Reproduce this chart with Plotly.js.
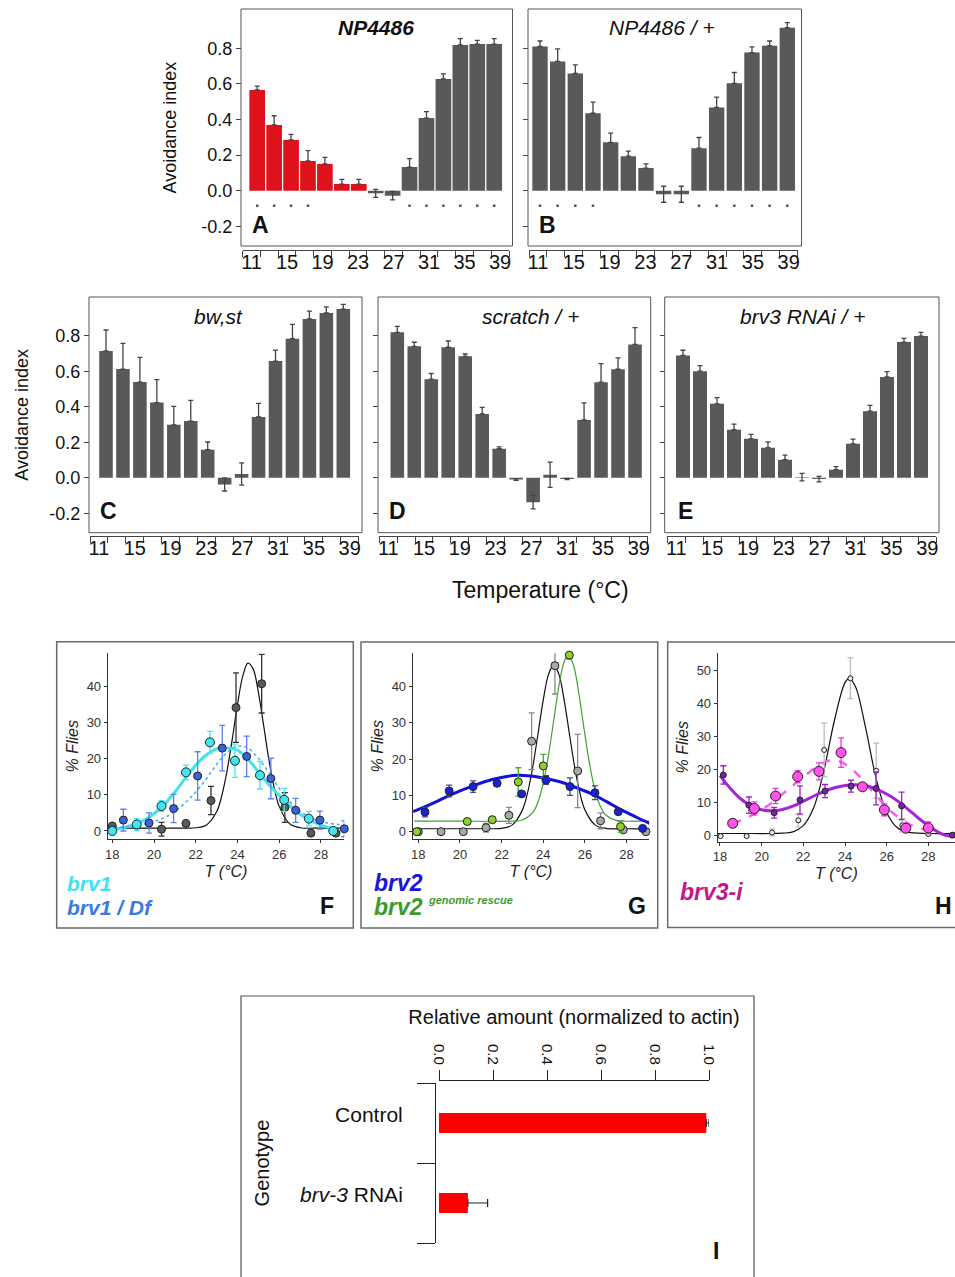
<!DOCTYPE html>
<html>
<head>
<meta charset="utf-8">
<script src="https://cdn.plot.ly/plotly-3.0.1.min.js"></script>
<style>
html,body{margin:0;padding:0;background:#ffffff;}
#chart{width:955px;height:1277px;}
</style>
</head>
<body>
<div id="chart"></div>
<script>
// ================= DATA =================
const temps = [11,13,15,17,19,21,23,25,27,29,31,33,35,37,39];
const tempTickVals = [11,15,19,23,27,31,35,39];
const tempTickText = ['11','15','19','23','27','31','35','39'];
const avoidTickVals = [-0.2,0,0.2,0.4,0.6,0.8];
const avoidTickText = ['-0.2','0.0','0.2','0.4','0.6','0.8'];

// A: NP4486
const np4486 = [0.566,0.369,0.285,0.167,0.150,0.037,0.037,-0.015,-0.028,0.133,0.408,0.628,0.819,0.824,0.824];
const np4486Err = [0.022,0.052,0.031,0.058,0.037,0.027,0.027,0.022,0.024,0.047,0.036,0.028,0.035,0.021,0.030];
const np4486Cold = [11,13,15,17,19,21,23];
const np4486Sig = [11,13,15,17,29,31,33,35,37,39];
// B: NP4486 / +
const np4486Het = [0.810,0.726,0.659,0.435,0.272,0.194,0.127,-0.020,-0.020,0.239,0.468,0.603,0.776,0.815,0.916];
const np4486HetErr = [0.031,0.071,0.048,0.063,0.051,0.028,0.024,0.045,0.045,0.060,0.058,0.061,0.032,0.026,0.028];
const np4486HetSig = [11,13,15,17,29,31,33,35,37,39];
// C: bw,st
const bwst = [0.714,0.612,0.539,0.423,0.298,0.319,0.158,-0.038,0.021,0.342,0.657,0.783,0.894,0.928,0.950];
const bwstErr = [0.118,0.145,0.139,0.129,0.104,0.117,0.043,0.037,0.063,0.077,0.062,0.081,0.045,0.034,0.027];
// D: scratch / +
const scratchHet = [0.819,0.740,0.555,0.735,0.684,0.359,0.163,-0.010,-0.138,0.017,-0.007,0.325,0.538,0.611,0.751];
const scratchHetErr = [0.033,0.023,0.032,0.035,0.013,0.037,0.011,0.005,0.038,0.071,0.003,0.097,0.105,0.064,0.094];
// E: brv3 RNAi / +
const brv3RnaiHet = [0.689,0.600,0.416,0.270,0.219,0.169,0.101,0.003,-0.008,0.045,0.191,0.375,0.568,0.764,0.798];
const brv3RnaiHetErr = [0.029,0.031,0.035,0.032,0.025,0.033,0.026,0.021,0.016,0.017,0.026,0.033,0.030,0.021,0.021];

// F: brv1
const wtF_T = [18.0,20.36,21.53,22.73,23.93,25.16,26.27,27.52,28.72];
const wtF_Y = [1.4,0.5,2.1,8.4,34.1,40.7,6.5,-0.6,-0.6];
const wtF_E = [0,1.9,0,3.9,9.6,8.1,4.1,0,0];
const brv1_T = [18.0,19.17,20.36,21.53,22.68,23.88,25.08,26.24,27.42,28.59];
const brv1_Y = [0.0,1.8,6.9,16.2,24.5,19.4,15.4,8.6,3.4,0.0];
const brv1_E = [0.5,1.6,1.5,2.0,3.0,4.6,3.8,3.2,2.0,0.6];
const brv1Df_T = [18.53,19.76,20.94,22.09,23.27,24.44,25.6,26.79,27.95,29.12];
const brv1Df_Y = [3.0,2.2,6.2,15.2,22.9,20.6,14.5,5.7,3.0,0.6];
const brv1Df_E = [3.0,2.8,3.9,6.7,6.3,5.6,5.6,3.3,2.5,2.2];
const wtFitF_T = [17.8,18.5,19.5,20.5,21.5,22.0,22.5,23.0,23.25,23.5,23.75,24.0,24.25,24.5,24.75,25.0,25.25,25.5,25.75,26.0,26.5,27.0,28.0,29.1];
const wtFitF_Y = [0.8,0.8,0.8,0.8,0.8,0.9,1.6,5.3,9.8,16.6,25.4,34.9,42.7,46.4,44.8,38.4,29.3,19.9,12.2,6.8,2.0,0.9,0.8,0.8];
const brv1Fit_T = [17.9,18.5,19.2,19.8,20.4,21.0,21.5,22.0,22.5,23.0,23.3,23.6,24.0,24.5,25.1,25.6,26.2,26.8,27.4,28.0,28.6];
const brv1Fit_Y = [0.3,0.9,2.0,3.9,6.8,10.8,14.6,18.2,21.0,22.7,23.0,22.9,22.3,19.9,15.6,12.2,8.7,5.5,3.2,1.6,0.6];
const brv1DfFit_T = [17.8,18.5,19.3,20.0,20.6,21.2,21.8,22.4,22.9,23.4,23.9,24.4,24.9,25.4,25.9,26.4,27.0,27.6,28.3,29.1];
const brv1DfFit_Y = [0.9,1.1,1.6,2.6,4.0,6.3,9.5,13.6,17.6,21.2,23.3,23.2,20.8,17.0,12.6,8.7,5.5,3.4,2.2,1.7];

// G: brv2
const wtG_T = [18.0,19.09,20.16,21.25,22.35,23.44,24.56,25.65,26.75,27.84,28.93];
const wtG_Y = [0,0,0,1.1,4.5,24.9,45.7,16.7,3.0,0.5,0];
const wtG_E = [0,0,0,1.2,2.2,7.8,7.8,10.1,2.2,0,0];
const rescue_T = [17.92,20.35,21.55,22.8,24.0,25.25,27.71];
const rescue_Y = [0,2.8,3.3,13.7,18.1,48.6,1.4];
const rescue_E = [0,0,0,3.9,3.2,1.1,1.5];
const brv2_T = [18.32,19.48,20.63,21.78,22.96,24.13,25.28,26.48,27.6,28.77];
const brv2_Y = [5.4,11.2,12.4,13.3,10.4,14.2,12.4,10.7,5.5,0.9];
const brv2_E = [1.3,1.6,1.6,0.7,0,1.2,2.4,1.9,0,0];
const wtFitG_T = [17.8,19.0,20.0,21.0,21.5,22.0,22.5,23.0,23.25,23.5,23.75,24.0,24.25,24.5,24.75,25.0,25.25,25.5,25.75,26.0,26.5,27.0,28.0,29.1];
const wtFitG_Y = [0.8,0.8,0.8,0.8,0.8,0.9,1.8,6.0,10.8,18.0,27.1,36.3,43.3,46.0,43.3,36.3,27.1,18.0,10.8,6.0,1.8,0.9,0.8,0.8];
const rescueFit_T = [17.8,20.0,22.5,23.0,23.5,23.75,24.0,24.25,24.5,24.75,25.0,25.2,25.45,25.7,25.95,26.2,26.45,26.7,27.0,27.5,28.5,29.1];
const rescueFit_Y = [2.9,2.9,2.9,3.2,5.3,8.2,13.4,21.1,30.6,40.1,46.8,48.6,45.8,38.3,28.6,19.4,12.2,7.5,4.6,3.1,2.9,2.9];
const brv2Fit_T = [17.75,18.5,19.25,20.0,20.75,21.5,22.25,22.75,23.25,24.0,24.75,25.5,26.25,27.0,27.75,28.5,29.1];
const brv2Fit_Y = [5.5,7.3,9.3,11.2,12.9,14.3,15.2,15.5,15.4,14.8,13.8,12.3,10.6,8.4,6.0,3.9,2.3];

// H: brv3-i
const wtH_T = [18.03,19.28,20.5,21.76,23.0,24.26,25.5,26.75,28.0,29.2];
const wtH_Y = [-0.3,-0.3,0.8,4.5,25.9,47.7,19.6,3.0,0.3,0];
const wtH_E = [0,0,1.0,2.0,8.2,6.2,8.4,2.0,0,0];
const brv3iA_T = [18.61,19.65,20.67,21.73,22.75,23.81,24.84,25.89,26.92,28.0];
const brv3iA_Y = [3.6,8.1,11.9,17.8,19.4,25.1,14.7,7.7,2.1,2.2];
const brv3iA_E = [1.2,2.0,2.3,1.8,2.6,4.5,0.8,1.8,0.8,1.8];
const brv3iB_T = [18.16,19.39,20.6,21.84,23.04,24.29,25.49,26.72,28.0,29.15];
const brv3iB_Y = [18.3,9.1,6.8,10.7,13.4,14.9,14.2,8.9,2.0,0];
const brv3iB_E = [2.8,2.5,1.6,4.3,2.0,1.8,5.0,4.2,0,0];
const wtFitH_T = [17.9,19.0,20.5,21.0,21.5,22.0,22.5,23.0,23.5,24.0,24.2,24.5,25.0,25.5,26.0,26.5,27.0,28.0,29.3];
const wtFitH_Y = [0.5,0.5,0.5,0.6,1.0,2.9,8.4,20.0,35.1,46.4,47.7,45.2,32.3,17.1,6.9,2.3,0.9,0.5,0.5];
const brv3iAFit_T = [18.6,19.2,19.8,20.4,21.0,21.6,22.2,22.7,23.2,23.7,24.2,24.7,25.2,25.7,26.2,26.7,27.2,27.7,28.2];
const brv3iAFit_Y = [3.5,5.0,7.0,9.5,12.5,15.6,18.7,21.0,22.6,22.5,20.8,17.8,14.2,10.6,7.3,4.8,3.0,1.9,1.3];
const brv3iBFit_T = [18.0,18.5,19.0,19.5,20.0,20.5,21.0,21.5,22.0,22.5,23.0,23.5,24.0,24.5,25.0,25.5,26.0,26.5,27.0,27.5,28.0,28.4,28.8,29.1,29.3];
const brv3iBFit_Y = [18.1,14.2,11.0,8.9,7.7,7.4,7.8,8.8,10.3,11.9,13.3,14.4,15.1,15.3,15.0,14.0,12.5,10.5,8.0,5.3,2.9,1.2,0.0,-0.3,-0.1];
const flyTicks18 = [18,20,22,24,26,28];

// I: qPCR
const iGenotype = ['Control','brv-3 RNAi'];
const iGenotypeText = ['Control','<i>brv-3</i> RNAi'];
const iRel = [0.99,0.107];
const iRelErr = [0.01,0.073];
const iTickVals = [0,0.2,0.4,0.6,0.8,1.0];
const iTickText = ['0.0','0.2','0.4','0.6','0.8','1.0'];

// ================= LAYOUT HELPERS =================
const W = 955, H = 1277;
const fx = p => p / W;
const fy = p => 1 - p / H;
const FONT = 'Liberation Sans, Arial, Helvetica, sans-serif';
const RED = '#df111b', GRAY = '#595959';
const ax = (l, n) => l + (n === 1 ? '' : n);
const lay = (l, n) => l + 'axis' + (n === 1 ? '' : n);

const data = [];
const layout = {
  width: W, height: H, margin: {l:0, r:0, t:0, b:0},
  paper_bgcolor: '#ffffff', plot_bgcolor: 'rgba(0,0,0,0)',
  showlegend: false, hovermode: false,
  font: {family: FONT, color: '#111'},
  annotations: [], shapes: []
};
function ann(text, x, y, size, opts) {
  layout.annotations.push(Object.assign({
    text: text, x: fx(x), y: fy(y), xref: 'paper', yref: 'paper', showarrow: false,
    xanchor: 'center', yanchor: 'middle', font: {size: size, color: '#111', family: FONT}
  }, opts || {}));
}
function rect(x0, y0, x1, y1, color, width) {
  layout.shapes.push({type:'rect', xref:'paper', yref:'paper', x0: fx(x0), x1: fx(x1), y0: fy(y1), y1: fy(y0),
    line: {color: color, width: width}, fillcolor: 'rgba(0,0,0,0)'});
}

// ================= BAR PANELS A-E =================
const barPanels = [
  {vals: np4486, errs: np4486Err, red: np4486Cold, sig: np4486Sig, title: '<b><i>NP4486</i></b>', tpos: [376, 27], letter: 'A', lpos: [260, 225],
   box: [241, 9, 512.5, 246], tick: [242.7, 509], tickY: 250, b11: 257.2, b39: 494.2, bw: 1.85, zero: 190.7, unit: 178, ylab: true, ystand: 19},
  {vals: np4486Het, errs: np4486HetErr, red: [], sig: np4486HetSig, title: '<i>NP4486 / +</i>', tpos: [662, 28], letter: 'B', lpos: [547, 225],
   box: [528, 9, 801.5, 246], tick: [529, 797.7], tickY: 250, b11: 540, b39: 787.3, bw: 1.74, zero: 190.7, unit: 178, ylab: false},
  {vals: bwst, errs: bwstErr, red: [], sig: null, title: '<i>bw,st</i>', tpos: [218, 316], letter: 'C', lpos: [108, 511],
   box: [89, 297, 362, 532.7], tick: [90, 358.7], tickY: 536, b11: 106, b39: 343.3, bw: 1.6, zero: 477.7, unit: 177.5, ylab: true, ystand: 15},
  {vals: scratchHet, errs: scratchHetErr, red: [], sig: null, title: '<i>scratch / +</i>', tpos: [530, 316], letter: 'D', lpos: [397, 511],
   box: [378, 297, 650.7, 532.7], tick: [379.3, 647.7], tickY: 536, b11: 397.3, b39: 635, bw: 1.6, zero: 477.7, unit: 177.5, ylab: false},
  {vals: brv3RnaiHet, errs: brv3RnaiHetErr, red: [], sig: null, title: '<i>brv3 RNAi / +</i>', tpos: [802, 316], letter: 'E', lpos: [685, 511],
   box: [664.7, 297, 939, 532.7], tick: [667.3, 936.3], tickY: 536, b11: 683, b39: 921, bw: 1.65, zero: 477.7, unit: 177.5, ylab: false}
];

barPanels.forEach((p, k) => {
  const nb = 2 * k + 1, nt = 2 * k + 2, ny = k + 1;
  const s = (p.b39 - p.b11) / 28;
  const r0 = 11 - (p.b11 - p.tick[0]) / s;
  const r1 = r0 + (p.tick[1] - p.tick[0]) / s;
  const yr = [(p.zero - p.box[3]) / p.unit, (p.zero - p.box[1]) / p.unit];
  data.push({
    type: 'bar', x: temps, y: p.vals, xaxis: ax('x', nb), yaxis: ax('y', ny), width: p.bw,
    marker: {color: temps.map(t => p.red.includes(t) ? RED : GRAY), line: {width: 0}},
    error_y: {type: 'data', symmetric: false, array: p.errs,
      arrayminus: p.vals.map((v, i) => v > p.errs[i] ? 0 : p.errs[i]),
      color: '#444', thickness: 1.3, width: 2.5},
    hoverinfo: 'skip'
  });
  if (p.sig) {
    data.push({type: 'scatter', mode: 'markers', x: p.sig, y: p.sig.map(() => -0.085),
      xaxis: ax('x', nb), yaxis: ax('y', ny), marker: {size: 2.5, color: '#555', symbol: 'square'}, hoverinfo: 'skip'});
  }
  // invisible helper so the tick axis subplot exists
  data.push({type: 'scatter', mode: 'markers', x: [tempTickVals[0]], y: [0], xaxis: ax('x', nt), yaxis: ax('y', ny),
    marker: {opacity: 0}, hoverinfo: 'skip'});
  layout[lay('x', nb)] = {domain: [fx(p.tick[0]), fx(p.tick[1])], range: [r0, r1], visible: false, anchor: ax('y', ny), fixedrange: true};
  layout[lay('x', nt)] = {
    overlaying: ax('x', nb), anchor: 'free', position: fy(p.tickY), range: [10, 40],
    tickmode: 'array', tickvals: tempTickVals, ticktext: tempTickText, ticks: '',
    showline: true, linecolor: '#444', linewidth: 1, showgrid: false, zeroline: false,
    tickfont: {size: 20, color: '#111'}, ticklabelstandoff: -6,
    minor: {tickmode: 'linear', tick0: 10, dtick: 2, ticks: 'outside', ticklen: 6, tickcolor: '#444', tickwidth: 1, showgrid: false}
  };
  const yax = {
    domain: [fy(p.box[3]), fy(p.box[1])], range: yr, anchor: 'free', position: fx(p.box[0]),
    tickmode: 'array', tickvals: avoidTickVals, ticktext: avoidTickText,
    ticks: 'outside', ticklen: 5, tickcolor: '#444', showline: false, showgrid: false, zeroline: false,
    showticklabels: p.ylab, tickfont: {size: 18, color: '#111'}
  };
  if (p.ylab) yax.title = {text: 'Avoidance index', font: {size: 18, color: '#111'}, standoff: p.ystand};
  layout[lay('y', ny)] = yax;
  rect(p.box[0], p.box[1], p.box[2], p.box[3], '#555', 1);
  ann(p.title, p.tpos[0], p.tpos[1], 21);
  ann('<b>' + p.letter + '</b>', p.lpos[0], p.lpos[1], 23);
});
ann('Temperature (°C)', 540, 590, 23);

// ================= CURVE PANELS F-H =================
function pts(x, y, e, fill, size, ecolor, xa, ya) {
  data.push({type: 'scatter', mode: 'markers', x: x, y: y, xaxis: xa, yaxis: ya, cliponaxis: false,
    marker: {color: fill, size: size, line: {color: '#222', width: 1}},
    error_y: {type: 'data', array: e, color: ecolor, thickness: 1.3, width: 3}, hoverinfo: 'skip'});
}
function fit(x, y, color, width, dash, xa, ya) {
  data.push({type: 'scatter', mode: 'lines', x: x, y: y, xaxis: xa, yaxis: ya, cliponaxis: false,
    line: {color: color, width: width, dash: dash || 'solid', shape: 'spline', smoothing: 1}, hoverinfo: 'skip'});
}
const curvePanels = [
  {nx: 11, ny: 6, xdom: [107.7, 344.3], ydom: [653.3, 839.3], xr: [17.78, 29.12], yr: [-2.3, 49.1], yt: [0,10,20,30,40], frame: [56.7, 641.7, 353.3, 928]},
  {nx: 12, ny: 7, xdom: [412.7, 649.3], ydom: [653.3, 839.3], xr: [17.73, 29.09], yr: [-2.1, 49.1], yt: [0,10,20,30,40], frame: [361, 642, 657.7, 928]},
  {nx: 13, ny: 8, xdom: [717.7, 955], ydom: [652.7, 841.7], xr: [17.89, 29.28], yr: [-2.0, 55.5], yt: [0,10,20,30,40,50], frame: [667.7, 642, 962, 927.5]}
];
curvePanels.forEach(c => {
  layout[lay('x', c.nx)] = {
    domain: [fx(c.xdom[0]), fx(c.xdom[1])], range: c.xr, anchor: ax('y', c.ny),
    tickmode: 'array', tickvals: flyTicks18, ticks: 'outside', ticklen: 3, tickcolor: '#333',
    showline: true, linecolor: '#333', linewidth: 1, showgrid: false, zeroline: false,
    tickfont: {size: 13, color: '#333'},
    title: {text: '<i>T (°C)</i>', font: {size: 16, color: '#222'}, standoff: 4}
  };
  layout[lay('y', c.ny)] = {
    domain: [fy(c.ydom[1]), fy(c.ydom[0])], range: c.yr, anchor: ax('x', c.nx),
    tickmode: 'array', tickvals: c.yt, ticks: 'outside', ticklen: 3, tickcolor: '#333',
    showline: true, linecolor: '#333', linewidth: 1, showgrid: false, zeroline: false,
    tickfont: {size: 13, color: '#333'},
    title: {text: '<i>% Flies</i>', font: {size: 16, color: '#222'}, standoff: 4}
  };
  rect(c.frame[0], c.frame[1], c.frame[2], c.frame[3], '#6a6a6a', 1.5);
});
// F
fit(wtFitF_T, wtFitF_Y, '#111', 1.2, 'solid', 'x11', 'y6');
fit(brv1Fit_T, brv1Fit_Y, '#3fe4ee', 3, 'solid', 'x11', 'y6');
fit(brv1DfFit_T, brv1DfFit_Y, '#4aa8f0', 1.5, 'dot', 'x11', 'y6');
pts(wtF_T, wtF_Y, wtF_E, '#5a5a5a', 8, '#333', 'x11', 'y6');
pts(brv1Df_T, brv1Df_Y, brv1Df_E, '#3a62dc', 8, '#5b80f0', 'x11', 'y6');
pts(brv1_T, brv1_Y, brv1_E, '#42e6f0', 9, '#44e8f0', 'x11', 'y6');
ann('<b><i>brv1</i></b>', 65, 883, 21, {xanchor: 'left', font: {size: 21, color: '#3ee2ee', family: FONT}});
ann('<b><i>brv1 / Df</i></b>', 65, 907, 21, {xanchor: 'left', font: {size: 21, color: '#3a78e4', family: FONT}});
ann('<b>F</b>', 327, 906, 23);
// G
fit(wtFitG_T, wtFitG_Y, '#111', 1.2, 'solid', 'x12', 'y7');
fit(rescueFit_T, rescueFit_Y, '#3ea22e', 1.2, 'solid', 'x12', 'y7');
fit(brv2Fit_T, brv2Fit_Y, '#1212dc', 3, 'solid', 'x12', 'y7');
pts(wtG_T, wtG_Y, wtG_E, '#a8a8a8', 8, '#888', 'x12', 'y7');
pts(rescue_T, rescue_Y, rescue_E, '#8fcf2c', 8, '#44aa33', 'x12', 'y7');
pts(brv2_T, brv2_Y, brv2_E, '#1a22d0', 8, '#44449a', 'x12', 'y7');
ann('<b><i>brv2</i></b>', 372, 883, 23, {xanchor: 'left', font: {size: 23, color: '#1616e0', family: FONT}});
ann('<b><i>brv2</i></b>', 372, 907, 23, {xanchor: 'left', font: {size: 23, color: '#3c9a2e', family: FONT}});
ann('<b><i>genomic rescue</i></b>', 426, 900, 11, {xanchor: 'left', font: {size: 11, color: '#3c9a2e', family: FONT}});
ann('<b>G</b>', 637, 906, 23);
// H
fit(wtFitH_T, wtFitH_Y, '#111', 1.2, 'solid', 'x13', 'y8');
fit(brv3iAFit_T, brv3iAFit_Y, '#ff5cee', 2.5, 'dash', 'x13', 'y8');
fit(brv3iBFit_T, brv3iBFit_Y, '#a623d8', 3, 'solid', 'x13', 'y8');
pts(wtH_T, wtH_Y, wtH_E, '#e8e8e8', 5, '#bbbbbb', 'x13', 'y8');
pts(brv3iB_T, brv3iB_Y, brv3iB_E, '#7d20aa', 6, '#9b22cc', 'x13', 'y8');
pts(brv3iA_T, brv3iA_Y, brv3iA_E, '#ff52ea', 10, '#ee33dd', 'x13', 'y8');
ann('<b><i>brv3-i</i></b>', 678, 892, 23, {xanchor: 'left', font: {size: 23, color: '#c4168c', family: FONT}});
ann('<b>H</b>', 943, 906, 23);

// ================= PANEL I =================
data.push({
  type: 'bar', orientation: 'h', x: iRel, y: iGenotype, xaxis: 'x14', yaxis: 'y9', width: 0.25,
  marker: {color: '#ff0000', line: {width: 0}},
  error_x: {type: 'data', symmetric: false, array: iRelErr, arrayminus: iRelErr.map(() => 0), color: '#222', thickness: 1.2, width: 4},
  hoverinfo: 'skip'
});
layout.xaxis14 = {
  domain: [fx(439), fx(709)], range: [0, 1], side: 'top', anchor: 'free', position: fy(1080),
  tickmode: 'array', tickvals: iTickVals, ticktext: iTickText, tickangle: 90,
  ticks: 'outside', ticklen: 10, tickcolor: '#222', showline: true, linecolor: '#222', linewidth: 1,
  showgrid: false, zeroline: false, tickfont: {size: 15, color: '#111'},
  title: {text: 'Relative amount (normalized to actin)', font: {size: 20, color: '#111'}, standoff: 12}
};
layout.yaxis9 = {
  domain: [fy(1243), fy(1083)], type: 'category', categoryorder: 'array', categoryarray: iGenotype.slice().reverse(),
  range: [-0.5, 1.5], anchor: 'free', position: fx(435),
  tickmode: 'array', tickvals: iGenotype.slice().reverse(), ticktext: iGenotypeText.slice().reverse(), tickson: 'boundaries',
  ticks: 'outside', ticklen: 18, tickcolor: '#222', showline: true, linecolor: '#222', linewidth: 1,
  showgrid: false, zeroline: false, tickfont: {size: 21, color: '#111'}, ticklabelstandoff: 28, ticklabelshift: -8,
  title: {text: 'Genotype', font: {size: 20, color: '#111'}, standoff: 24}
};
rect(241, 996, 754, 1290, '#555', 1.2);
ann('<b>I</b>', 716, 1251, 23);

Plotly.newPlot('chart', data, layout, {staticPlot: true, displayModeBar: false});
</script>
</body>
</html>
